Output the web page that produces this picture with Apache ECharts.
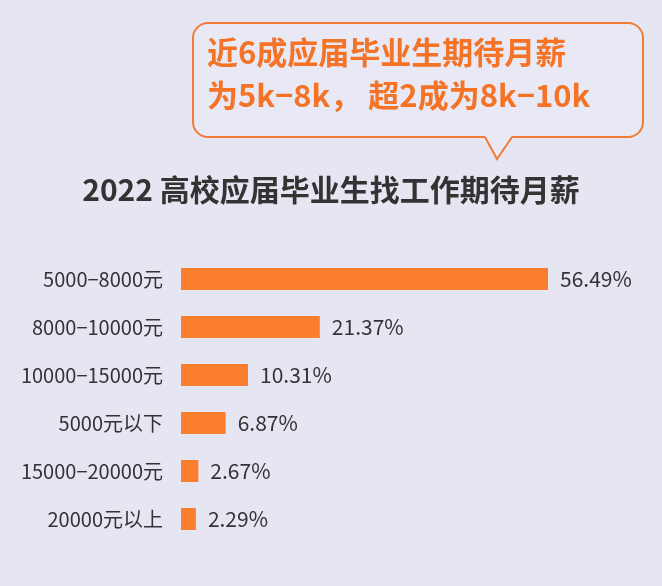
<!DOCTYPE html><html><head><meta charset="utf-8"><script src="https://cdn.jsdelivr.net/npm/echarts@6/dist/echarts.min.js"></script>
<style>html,body{margin:0;background:#e5e6f2}#c{width:662px;height:586px}</style></head><body><div id="c"></div><script>
const categories=['5000−8000元','8000−10000元','10000−15000元','5000元以下','15000−20000元','20000元以上'];
const values=[56.49,21.37,10.31,6.87,2.67,2.29];
const ch=echarts.init(document.getElementById('c'));
const F='"Noto Sans CJK SC",sans-serif';
ch.setOption({backgroundColor:'#e5e6f2',
title:{text:'2022 高校应届毕业生找工作期待月薪',left:'center',top:170,textStyle:{fontFamily:F,fontSize:30,fontWeight:'bold',color:'#333'}},
grid:{left:181,width:367,top:255,height:288},
xAxis:{type:'value',min:0,max:56.49,show:false},
yAxis:{type:'category',inverse:true,data:categories,axisLine:{show:false},axisTick:{show:false},axisLabel:{margin:18,fontFamily:F,fontSize:20,color:'#333'}},
series:[{type:'bar',data:values,barWidth:22,itemStyle:{color:'#fb7d2f'},label:{show:true,position:'right',distance:12,formatter:p=>p.value.toFixed(2)+'%',fontFamily:F,fontSize:21,color:'#333'}}],
graphic:[
{type:'rect',shape:{x:193,y:23,width:450,height:114,r:15},style:{fill:'#e8e9f5',stroke:'#f07c35',lineWidth:2}},
{type:'polygon',shape:{points:[[485,136],[497,158],[512,136]]},style:{fill:'#e8e9f5'}},
{type:'polyline',shape:{points:[[485,137],[497,159],[512,137]]},style:{fill:null,stroke:'#f07c35',lineWidth:2}},
{type:'text',left:207,top:37,style:{text:'近6成应届毕业生期待月薪',font:'bold 31px '+F,fill:'#f47326'}},
{type:'text',left:207,top:80,style:{text:'为5k−8k， 超2成为8k−10k',font:'bold 31px '+F,fill:'#f47326'}}
]});
</script></body></html>
